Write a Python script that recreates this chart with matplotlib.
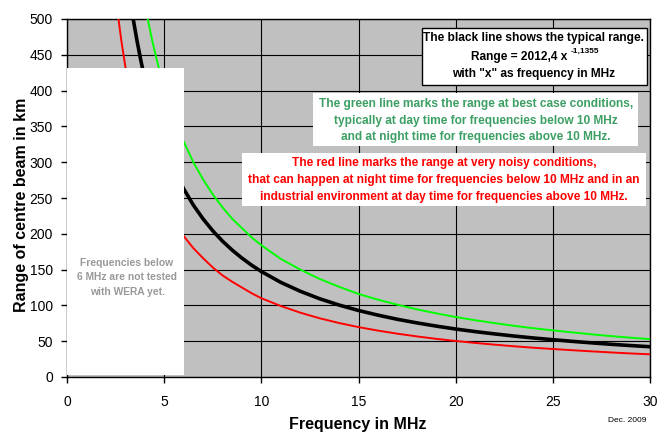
import matplotlib
matplotlib.use('Agg')
import matplotlib.pyplot as plt
from matplotlib.patches import Rectangle

plt.rcParams['font.family'] = ['Liberation Sans', 'DejaVu Sans']

# == DATA ==
freq = [2.6, 2.8, 3.0, 3.2, 3.4, 3.6, 3.8, 4.0, 4.2, 4.4, 4.6, 4.8, 5.0, 5.5, 6.0,
        6.5, 7.0, 7.5, 8.0, 8.5, 9.0, 9.5, 10,
        11, 12, 13, 14, 15, 16, 17, 18, 19, 20, 21, 22, 23, 24, 25, 26, 27, 28, 29, 30]
range_typical = [680, 625, 578, 537, 501, 470, 442, 417, 395, 374, 356, 339, 324, 290, 263,
                 240.2, 220.9, 204.2, 189.8, 177.2, 166.1, 156.2, 147.3,
                 132.2, 119.8, 109.3, 100.5, 92.9, 86.4, 80.6, 75.6, 71.1, 67.0, 63.4,
                 60.2, 57.2, 54.5, 52.1, 49.8, 47.7, 45.7, 43.9, 42.3]
range_best = [850, 781, 723, 671, 626, 588, 553, 521, 494, 468, 445, 424, 405, 363, 329,
              300, 276, 255, 237, 221, 208, 195, 184,
              165, 150, 137, 126, 116, 108, 101, 94.5, 88.9, 83.8, 79.3,
              75.3, 71.5, 68.1, 65.1, 62.3, 59.6, 57.1, 54.9, 52.9]
range_noisy = [510, 469, 434, 403, 376, 353, 332, 313, 296, 281, 267, 254, 243, 218, 197,
               180, 166, 153, 142, 133, 125, 117, 110,
               99.2, 89.9, 82.0, 75.4, 69.7, 64.8, 60.5, 56.7, 53.3, 50.3, 47.6,
               45.2, 42.9, 40.9, 39.1, 37.4, 35.8, 34.3, 32.9, 31.7]

xticks = [0, 5, 10, 15, 20, 25, 30]
yticks = [0, 50, 100, 150, 200, 250, 300, 350, 400, 450, 500]

black_text = ["The black line shows the typical range.",
              "Range = 2012,4 x",
              'with "x" as frequency in MHz']
exponent = "-1,1355"
green_text = ["The green line marks the range at best case conditions,",
              "typically at day time for frequencies below 10 MHz",
              "and at night time for frequencies above 10 MHz."]
red_text = ["The red line marks the range at very noisy conditions,",
            "that can happen at night time for frequencies below 10 MHz and in an",
            "industrial environment at day time for frequencies above 10 MHz."]
gray_text = ["Frequencies below", "6 MHz are not tested", "with WERA yet."]

# == FIGURE ==
fig = plt.figure(figsize=(6.57, 4.33), dpi=100)
ax = fig.add_axes([67/657, 1-377/433, 583/657, 358/433])
ax.set_facecolor('#c0c0c0')

ax.plot(freq, range_best, color='#00ff00', lw=1.4, zorder=3)
ax.plot(freq, range_noisy, color='#ff0000', lw=1.4, zorder=3)
ax.plot(freq, range_typical, color='black', lw=2.6, zorder=4)

ax.set_xlim(0, 30)
ax.set_ylim(0, 500)
ax.set_xticks(xticks)
ax.set_yticks(yticks)
ax.grid(True, color='black', lw=0.8, zorder=1)
ax.set_axisbelow(True)
for s in ax.spines.values():
    s.set_color('black')
    s.set_linewidth(1.0)
ax.tick_params(labelsize=10, length=4, width=1, colors='black', pad=6)
ax.tick_params(axis='x', pad=9)

# white box over the untested range
ax.add_patch(Rectangle((0, 2.5), 6, 428.5, facecolor='white', edgecolor='none', zorder=5))
for i, t in enumerate(gray_text):
    ax.text(3.09, 159 - i*20, t, color='#999999', fontsize=7.4, fontweight='bold',
            ha='center', va='center', zorder=6)

# black box
ax.add_patch(Rectangle((18.27, 407.8), 11.55, 79.6, facecolor='white', edgecolor='black',
                       lw=1.0, zorder=5))
ax.text(24.0, 474, black_text[0], fontsize=8.6, fontweight='bold', ha='center', va='center', zorder=6)
ax.text(20.79, 447, black_text[1], fontsize=8.6, fontweight='bold', ha='left', va='center', zorder=6)
ax.text(25.94, 455, exponent, fontsize=6, fontweight='bold', ha='left', va='center', zorder=6)
ax.text(24.0, 423, black_text[2], fontsize=8.6, fontweight='bold', ha='center', va='center', zorder=6)

# green box
ax.add_patch(Rectangle((12.66, 322), 16.73, 74.6, facecolor='white', edgecolor='none', zorder=5))
for i, t in enumerate(green_text):
    ax.text(21.05, 381 - i*23, t, color='#3c9f64', fontsize=8.6, fontweight='bold',
            ha='center', va='center', zorder=6)

# red box
ax.add_patch(Rectangle((9.0, 238.8), 20.8, 74.0, facecolor='white', edgecolor='none', zorder=5))
for i, t in enumerate(red_text):
    ax.text(19.4, 299 - i*23.5, t, color='#ff0000', fontsize=8.6, fontweight='bold',
            ha='center', va='center', zorder=6)

fig.text(22/657, 1-205/433, "Range of centre beam in km", rotation=90, fontsize=11.5,
         fontweight='bold', ha='center', va='center')
fig.text(358/657, 1-425/433, "Frequency in MHz", fontsize=11.5, fontweight='bold',
         ha='center', va='center')
fig.text(627/657, 1-421/433, "Dec. 2009", fontsize=6, ha='center', va='center')

fig.savefig('out.png', dpi=100)
